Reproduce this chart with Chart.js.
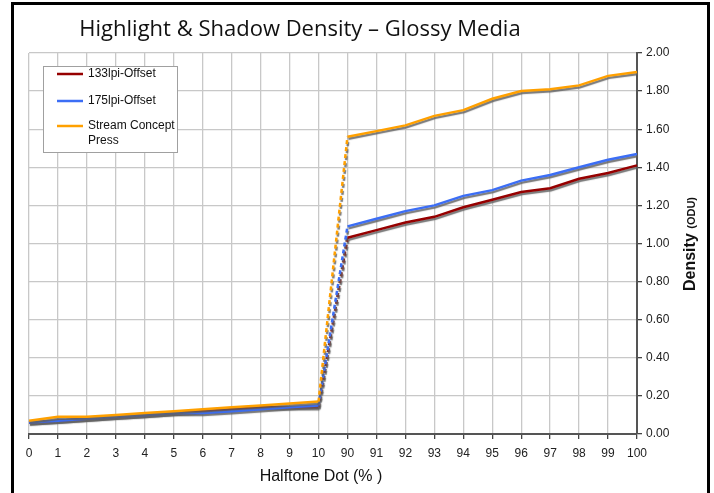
<!DOCTYPE html>
<html>
<head>
<meta charset="utf-8">
<script src="https://cdn.jsdelivr.net/npm/chart.js@4.4.1/dist/chart.umd.min.js"></script>
<style>
  body { margin: 0; background: #fff; overflow: hidden; }
  #wrap { position: relative; width: 714px; height: 493px; }
  #frame { position: absolute; left: 11px; top: 2px; width: 693px; height: 520px; border: 3px solid #000; }
  canvas { position: absolute; left: 0; top: 0; }
</style>
</head>
<body>
<div id="wrap">
  <div id="frame"></div>
  <canvas id="densityChart" width="714" height="493"></canvas>
</div>
<script>
const dotLabels = ['0', '1', '2', '3', '4', '5', '6', '7', '8', '9', '10',
    '90', '91', '92', '93', '94', '95', '96', '97', '98', '99', '100'];
const offset133 = [0.06, 0.07, 0.08, 0.09, 0.10, 0.11, 0.12, 0.13, 0.14, 0.14, 0.14,
    1.03, 1.07, 1.11, 1.14, 1.19, 1.23, 1.27, 1.29, 1.34, 1.37, 1.41];
const offset175 = [0.06, 0.07, 0.08, 0.09, 0.10, 0.11, 0.11, 0.12, 0.13, 0.14, 0.15,
    1.09, 1.13, 1.17, 1.20, 1.25, 1.28, 1.33, 1.36, 1.40, 1.44, 1.47];
const streamPress = [0.07, 0.09, 0.09, 0.10, 0.11, 0.12, 0.13, 0.14, 0.15, 0.16, 0.17,
    1.56, 1.59, 1.62, 1.67, 1.70, 1.76, 1.80, 1.81, 1.83, 1.88, 1.90];
const seriesNames = ['133lpi-Offset', '175lpi-Offset', 'Stream Concept Press'];
const seriesColors = ['rgb(150,0,0)', 'rgb(60,110,245)', 'rgb(255,160,0)'];

const chartTitle = 'Highlight & Shadow Density \u2013 Glossy Media';
const xTitle = 'Halftone Dot (% )';

// gap between 10 and 90 is drawn dashed
const gapIndex = dotLabels.indexOf('10');

function makeSet(i, values) {
    return {
        label: seriesNames[i],
        data: values,
        borderColor: seriesColors[i],
        backgroundColor: seriesColors[i],
        borderWidth: 2.5,
        pointRadius: 0,
        tension: 0,
        order: 3 - i,
        segment: {
            borderDash: ctx => ctx.p0DataIndex === gapIndex ? [4, 3] : undefined
        }
    };
}

const lineShadow = {
    id: 'lineShadow',
    beforeDatasetDraw(chart) {
        const ctx = chart.ctx;
        ctx.save();
        ctx.shadowColor = 'rgba(95,95,95,0.85)';
        ctx.shadowOffsetX = 1;
        ctx.shadowOffsetY = 2;
        ctx.shadowBlur = 1;
    },
    afterDatasetDraw(chart) {
        chart.ctx.restore();
    }
};

function wrapText(ctx, text, maxW) {
    const words = text.split(' ');
    const lines = [];
    let cur = '';
    words.forEach(w => {
        const test = cur ? cur + ' ' + w : w;
        if (ctx.measureText(test).width > maxW && cur) {
            lines.push(cur);
            cur = w;
        } else {
            cur = test;
        }
    });
    lines.push(cur);
    return lines;
}

const extras = {
    id: 'extras',
    afterDraw(chart) {
        const ctx = chart.ctx;
        ctx.save();

        // title
        ctx.fillStyle = '#111';
        ctx.font = '22px "Open Sans", sans-serif';
        ctx.textAlign = 'center';
        ctx.textBaseline = 'middle';
        ctx.fillText(chartTitle, 300, 30);

        // x axis title
        ctx.font = '16px "Liberation Sans", Arial, sans-serif';
        ctx.fillText(xTitle, 321, 477);

        // y axis title, mixed sizes
        ctx.save();
        ctx.translate(689, 244);
        ctx.rotate(-Math.PI / 2);
        ctx.textAlign = 'left';
        ctx.textBaseline = 'alphabetic';
        const big = 'bold 16px "Liberation Sans", Arial, sans-serif';
        const small = 'bold 11px "Liberation Sans", Arial, sans-serif';
        ctx.font = big;
        const w1 = ctx.measureText('Density ').width;
        ctx.font = small;
        const w2 = ctx.measureText('(ODU)').width;
        const x0 = -(w1 + w2) / 2;
        ctx.font = big;
        ctx.fillText('Density ', x0, 6);
        ctx.font = small;
        ctx.fillText('(ODU)', x0 + w1, 6);
        ctx.restore();

        // legend box
        const bx = 43, by = 66, bw = 134, bh = 86;
        ctx.fillStyle = '#fff';
        ctx.fillRect(bx, by, bw, bh);
        ctx.strokeStyle = '#a0a0a0';
        ctx.lineWidth = 1;
        ctx.strokeRect(bx + 0.5, by + 0.5, bw, bh);
        const rowY = [74, 101, 126];
        ctx.font = '12px "Liberation Sans", Arial, sans-serif';
        ctx.textAlign = 'left';
        ctx.textBaseline = 'middle';
        chart.data.datasets.forEach((ds, i) => {
            ctx.strokeStyle = ds.borderColor;
            ctx.lineWidth = 2.5;
            ctx.beginPath();
            ctx.moveTo(57, rowY[i]);
            ctx.lineTo(83, rowY[i]);
            ctx.stroke();
            ctx.fillStyle = '#111';
            wrapText(ctx, ds.label, 88).forEach((ln, k) => {
                ctx.fillText(ln, 88, rowY[i] + k * 15);
            });
        });
        ctx.restore();
    }
};

const densityChart = new Chart(document.getElementById('densityChart').getContext('2d'), {
    type: 'line',
    data: {
        labels: dotLabels,
        datasets: [
            makeSet(0, offset133),
            makeSet(1, offset175),
            makeSet(2, streamPress)
        ]
    },
    options: {
        responsive: false,
        animation: false,
        layout: { padding: { top: 53, left: 29, right: 0, bottom: 0 } },
        plugins: {
            legend: { display: false },
            title: { display: false },
            tooltip: { enabled: false }
        },
        scales: {
            x: {
                type: 'category',
                offset: false,
                grid: { color: '#c8c8c8', lineWidth: 1.3, tickLength: 5, tickColor: '#444', offset: false },
                border: { color: '#555', width: 2 },
                ticks: {
                    autoSkip: false, maxRotation: 0, padding: 7, color: '#222',
                    font: { family: '"Liberation Sans", Arial, sans-serif', size: 12 }
                },
                afterFit: scale => {
                    scale.height = 59;
                    scale.paddingLeft = 0;
                    scale.paddingRight = 0;
                }
            },
            y: {
                position: 'right',
                min: 0,
                max: 2,
                grid: { color: '#c8c8c8', lineWidth: 1.3, tickLength: 5, tickColor: '#444' },
                border: { color: '#555', width: 2 },
                ticks: {
                    stepSize: 0.2, padding: 4, color: '#222',
                    font: { family: '"Liberation Sans", Arial, sans-serif', size: 12 },
                    callback: v => Number(v).toFixed(2)
                },
                afterFit: scale => {
                    scale.width = 77;
                    scale.paddingTop = 0;
                    scale.paddingBottom = 0;
                }
            }
        }
    },
    plugins: [lineShadow, extras]
});
</script>
</body>
</html>
